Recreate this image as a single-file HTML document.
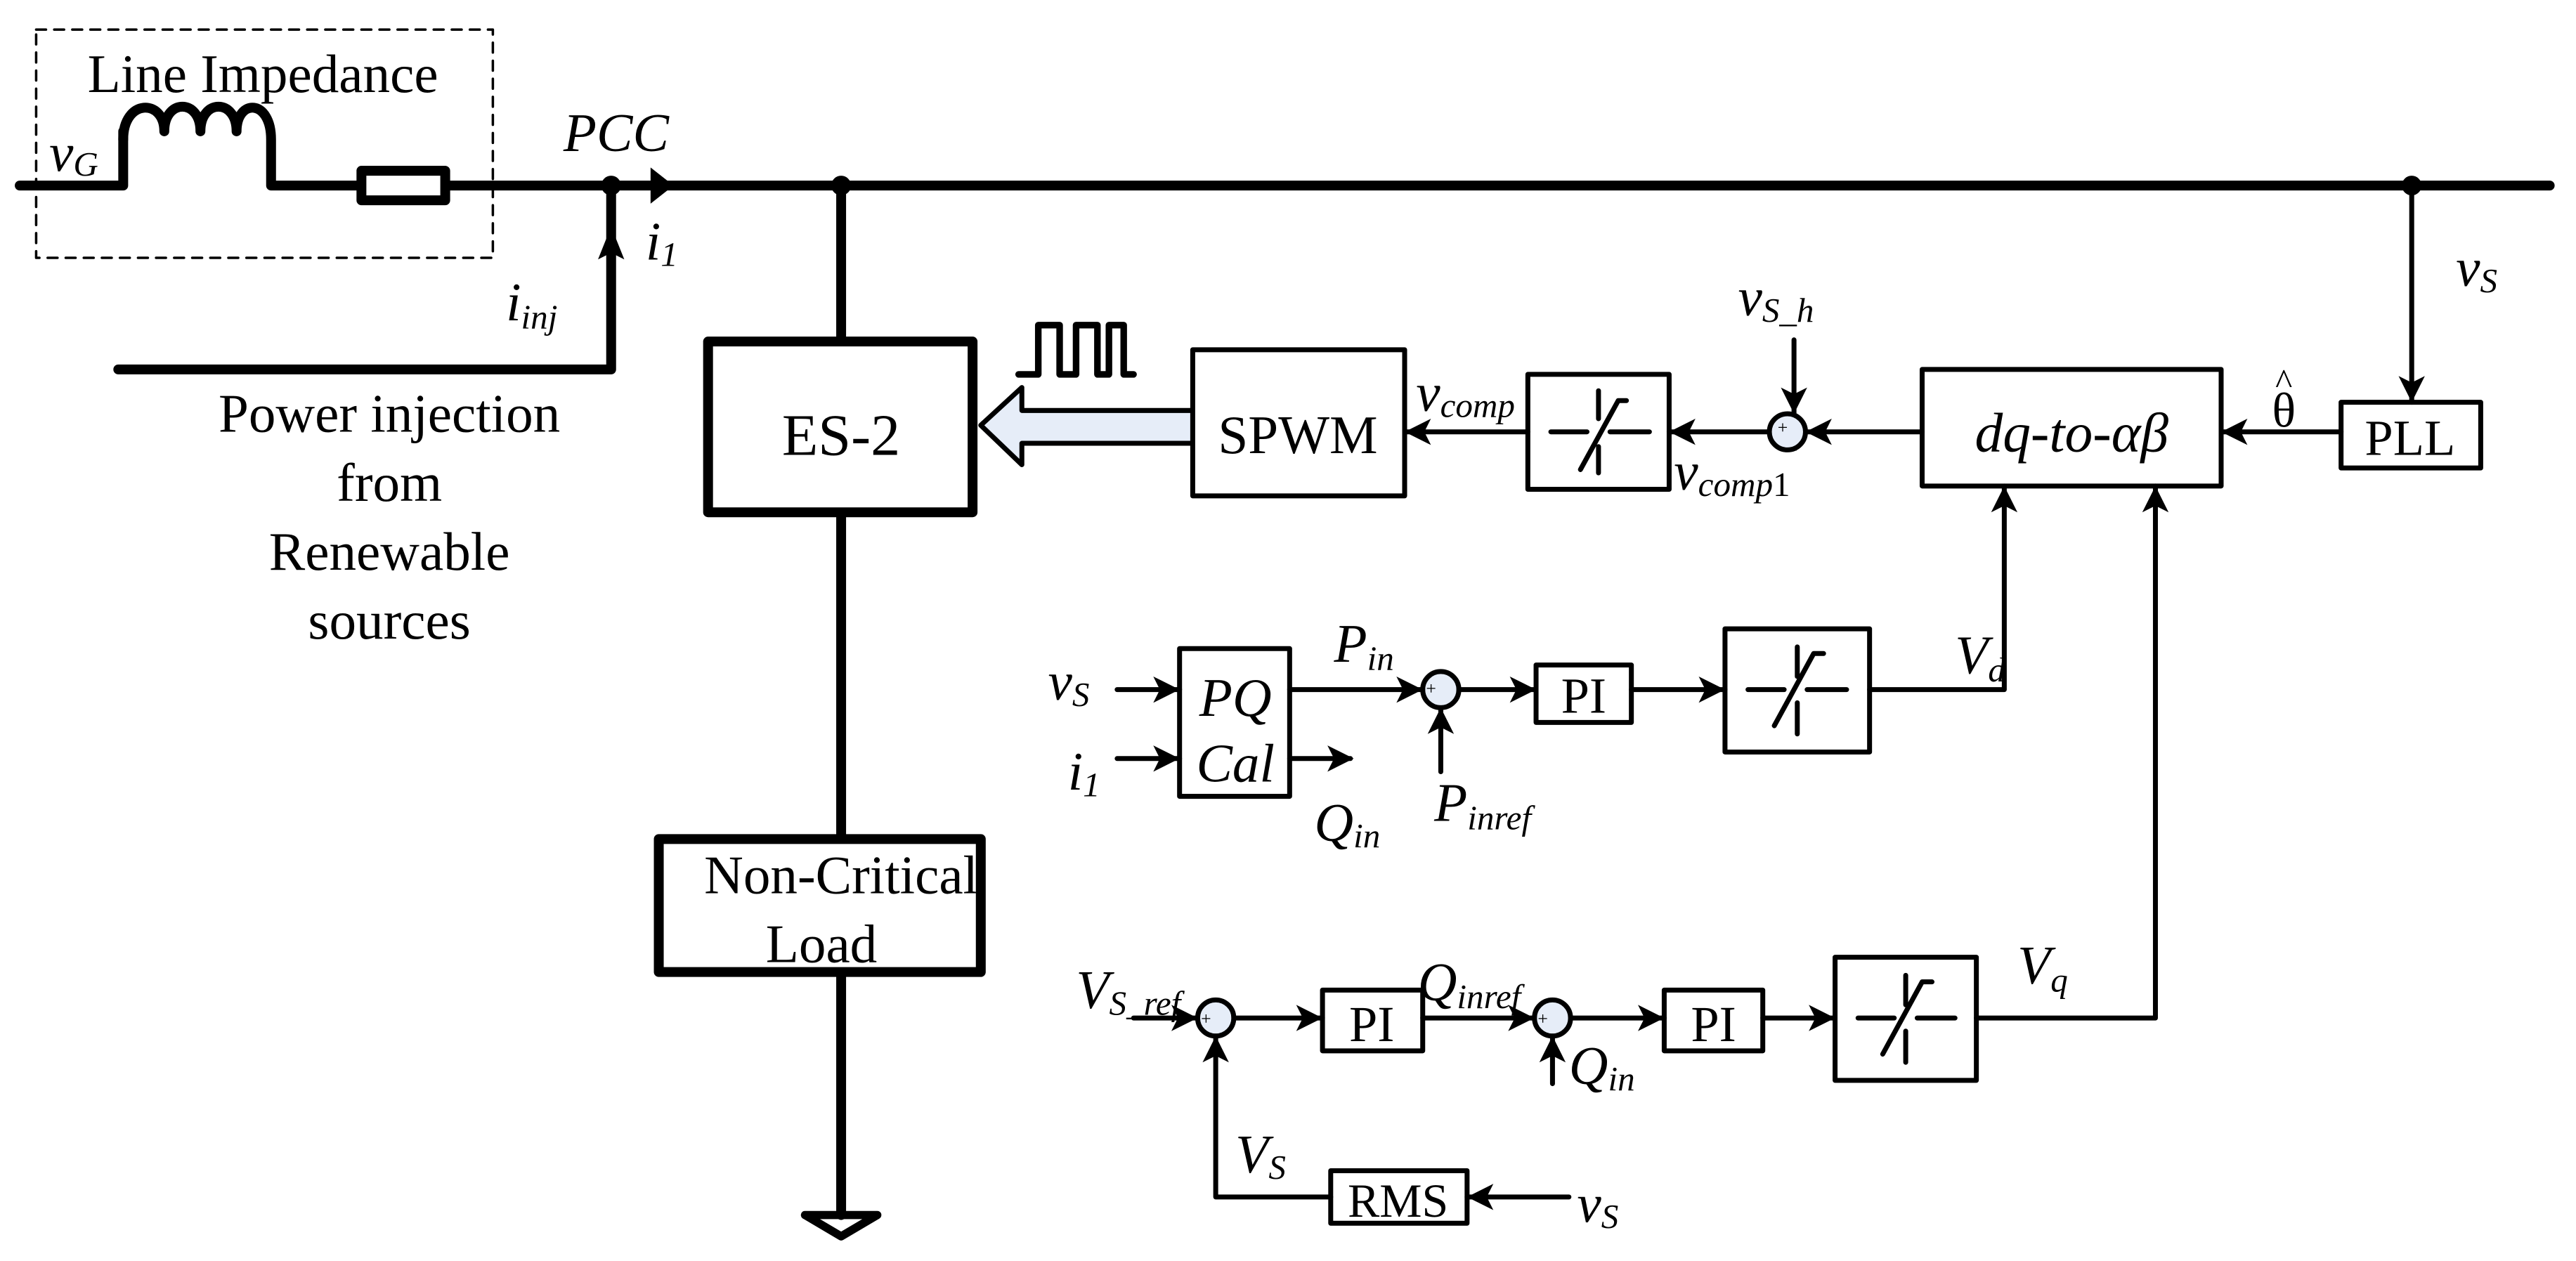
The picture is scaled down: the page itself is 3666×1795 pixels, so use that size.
<!DOCTYPE html>
<html><head><meta charset="utf-8"><style>
html,body{margin:0;padding:0;background:#fff;}
svg{display:block;}
text{font-family:"Liberation Serif",serif;fill:#000;}
.i{font-style:italic;}
</style></head><body>
<svg width="3666" height="1795" viewBox="0 0 1568 768" preserveAspectRatio="none" xmlns="http://www.w3.org/2000/svg">
<g fill="none" stroke="#000" stroke-linejoin="round" stroke-linecap="round">
<rect x="22" y="18" width="278" height="139" stroke-width="1.5" stroke-dasharray="6,5"/>
<path d="M75 85 C75 60 100 60 100 80 C100 60 122 60 122 80 C122 60 144 60 144 80 C144 60 165 60 165 85 V113 H218 M272 113 H1552" stroke-width="6"/>
<path d="M12 113 H75 V80" stroke-width="6"/>
<rect x="220" y="104" width="51" height="18" stroke-width="6"/>
<path d="M372 113 V225 H72" stroke-width="6"/>
<path d="M512 113 V740" stroke-width="6"/>
<rect x="431" y="208" width="161" height="104" fill="#fff" stroke-width="6"/>
<rect x="401" y="511" width="196" height="81" fill="#fff" stroke-width="6"/>
<path d="M490 740 H534 L512 753 Z" stroke-width="5"/>
<path d="M620 228 H632 V198 H645 V228 H655 V198 H668 V228 H675 V198 H684 V228 H690" stroke-width="4"/>
<path d="M726 250 H622 V236 L597 259 L622 283 V270 H726" fill="#e6edf8" stroke-width="3"/>
<g stroke-width="3" fill="#fff">
<rect x="726" y="213" width="129" height="89"/>
<rect x="930" y="228" width="86" height="70"/>
<rect x="1170" y="225" width="182" height="71"/>
<rect x="1425" y="245" width="85" height="40"/>
<rect x="718" y="395" width="67" height="90"/>
<rect x="935" y="405" width="58" height="35"/>
<rect x="1050" y="383" width="88" height="75"/>
<rect x="805" y="603" width="61" height="37"/>
<rect x="1013" y="603" width="60" height="37"/>
<rect x="1117" y="583" width="86" height="75"/>
<rect x="810" y="713" width="83" height="32"/>
</g>
<g stroke-width="3" fill="#e6edf8">
<circle cx="1088" cy="263" r="11"/>
<circle cx="877" cy="420" r="11"/>
<circle cx="740" cy="620" r="11"/>
<circle cx="945" cy="620" r="11"/>
</g>
<g stroke-width="3">
<path d="M855 263 H930 M1016 263 H1077 M1099 263 H1170 M1352 263 H1425"/>
<path d="M1092 207 V252"/>
<path d="M1468 113 V245"/>
<path d="M680 420 H718 M680 462 H718 M785 420 H866 M785 462 H822 M877 470 V431 M888 420 H935 M993 420 H1050"/>
<path d="M1138 420 H1220 V296 M1203 620 H1312 V296"/>
<path d="M690 620 H729 M751 620 H805 M866 620 H934 M945 660 V631 M956 620 H1013 M1073 620 H1117"/>
<path d="M810 729 H740 V631 M955 729 H893"/>
</g>
<g stroke-width="3">
<path d="M944 263 H966 M980 263 H1004 M973 238 V255 M973 272 V288 M962 286 L985 244 H990"/>
<path d="M1064 420 H1086 M1100 420 H1124 M1094 394 V412 M1094 428 V447 M1080 442 L1104 398 H1110"/>
<path d="M1131 620 H1153 M1167 620 H1190 M1160 594 V612 M1160 628 V647 M1146 642 L1170 598 H1176"/>
</g>
</g>
<g fill="#000">
<circle cx="372" cy="113" r="6"/>
<circle cx="512" cy="113" r="6"/>
<circle cx="1468" cy="113" r="6"/>
<polygon points="396,102 410,113 396,124"/>
<polygon points="364,158 372,138 380,158 372,154"/>
<polygon points="871,255 855,263 871,271 867,263"/>
<polygon points="1032,255 1016,263 1032,271 1028,263"/>
<polygon points="1115,255 1099,263 1115,271 1111,263"/>
<polygon points="1368,255 1352,263 1368,271 1364,263"/>
<polygon points="1084,236 1092,252 1100,236 1092,240"/>
<polygon points="1460,229 1468,245 1476,229 1468,233"/>
<polygon points="702,412 718,420 702,428 706,420"/>
<polygon points="702,454 718,462 702,470 706,462"/>
<polygon points="850,412 866,420 850,428 854,420"/>
<polygon points="808,454 824,462 808,470 812,462"/>
<polygon points="869,447 877,431 885,447 877,443"/>
<polygon points="919,412 935,420 919,428 923,420"/>
<polygon points="1034,412 1050,420 1034,428 1038,420"/>
<polygon points="1212,312 1220,296 1228,312 1220,308"/>
<polygon points="1304,312 1312,296 1320,312 1312,308"/>
<polygon points="713,612 729,620 713,628 717,620"/>
<polygon points="789,612 805,620 789,628 793,620"/>
<polygon points="918,612 934,620 918,628 922,620"/>
<polygon points="937,647 945,631 953,647 945,643"/>
<polygon points="997,612 1013,620 997,628 1001,620"/>
<polygon points="1101,612 1117,620 1101,628 1105,620"/>
<polygon points="732,647 740,631 748,647 740,643"/>
<polygon points="909,721 893,729 909,737 905,729"/>
</g>
<g font-size="11">
<text x="1082" y="264">+</text><text x="1088" y="273">_</text>
<text x="868" y="423">+</text><text x="874" y="429">_</text>
<text x="731" y="624">+</text><text x="737" y="630">_</text>
<text x="936" y="624">+</text><text x="943" y="630">_</text>
</g>
<g font-size="33">
<text x="160" y="56" text-anchor="middle">Line Impedance</text>
<text x="237" y="263" text-anchor="middle">Power injection</text>
<text x="237" y="305" text-anchor="middle">from</text>
<text x="237" y="347" text-anchor="middle">Renewable</text>
<text x="237" y="389" text-anchor="middle">sources</text>
<text x="512" y="277" text-anchor="middle" font-size="36">ES-2</text>
<text x="512" y="544" text-anchor="middle">Non-Critical</text>
<text x="500" y="586" text-anchor="middle">Load</text>
<text x="790" y="276" text-anchor="middle">SPWM</text>
<text x="1467" y="277" text-anchor="middle" font-size="31">PLL</text>
<text x="964" y="434" text-anchor="middle" font-size="31">PI</text>
<text x="835" y="634" text-anchor="middle" font-size="31">PI</text>
<text x="1043" y="634" text-anchor="middle" font-size="31">PI</text>
<text x="851" y="741" text-anchor="middle" font-size="29">RMS</text>
<text x="1261" y="275" text-anchor="middle" class="i" font-size="34">dq-to-αβ</text>
<text x="752" y="436" text-anchor="middle" class="i">PQ</text>
<text x="752" y="476" text-anchor="middle" class="i">Cal</text>
<text x="1383" y="260" font-size="30">θ</text><text x="1385" y="240" font-size="22">^</text>
<text x="343" y="92" class="i">PCC</text>
<text x="30" y="104" class="i">v<tspan font-size="21" dy="3">G</tspan></text>
<text x="393" y="158" class="i">i<tspan font-size="21" dy="4">1</tspan></text>
<text x="308" y="195" class="i">i<tspan font-size="21" dy="5">inj</tspan></text>
<text x="862" y="250" class="i">v<tspan font-size="21" dy="4">comp</tspan></text>
<text x="1019" y="298" class="i">v<tspan font-size="21" dy="4">comp</tspan><tspan font-style="normal" font-size="21">1</tspan></text>
<text x="1058" y="192" class="i">v<tspan font-size="21" dy="4">S_h</tspan></text>
<text x="1495" y="174" class="i">v<tspan font-size="21" dy="4">S</tspan></text>
<text x="638" y="426" class="i">v<tspan font-size="21" dy="4">S</tspan></text>
<text x="650" y="481" class="i">i<tspan font-size="21" dy="4">1</tspan></text>
<text x="812" y="403" class="i">P<tspan font-size="21" dy="5">in</tspan></text>
<text x="800" y="512" class="i">Q<tspan font-size="21" dy="4">in</tspan></text>
<text x="873" y="500" class="i">P<tspan font-size="21" dy="5">inref</tspan></text>
<text x="1190" y="410" class="i">V<tspan font-size="21" dy="5">d</tspan></text>
<text x="1228" y="599" class="i">V<tspan font-size="21" dy="5">q</tspan></text>
<text x="655" y="614" class="i">V<tspan font-size="21" dy="4">S_ref</tspan></text>
<text x="863" y="609" class="i">Q<tspan font-size="21" dy="5">inref</tspan></text>
<text x="955" y="660" class="i">Q<tspan font-size="21" dy="4">in</tspan></text>
<text x="752" y="714" class="i">V<tspan font-size="21" dy="4">S</tspan></text>
<text x="960" y="744" class="i">v<tspan font-size="21" dy="4">S</tspan></text>
</g>
</svg>
</body></html>
